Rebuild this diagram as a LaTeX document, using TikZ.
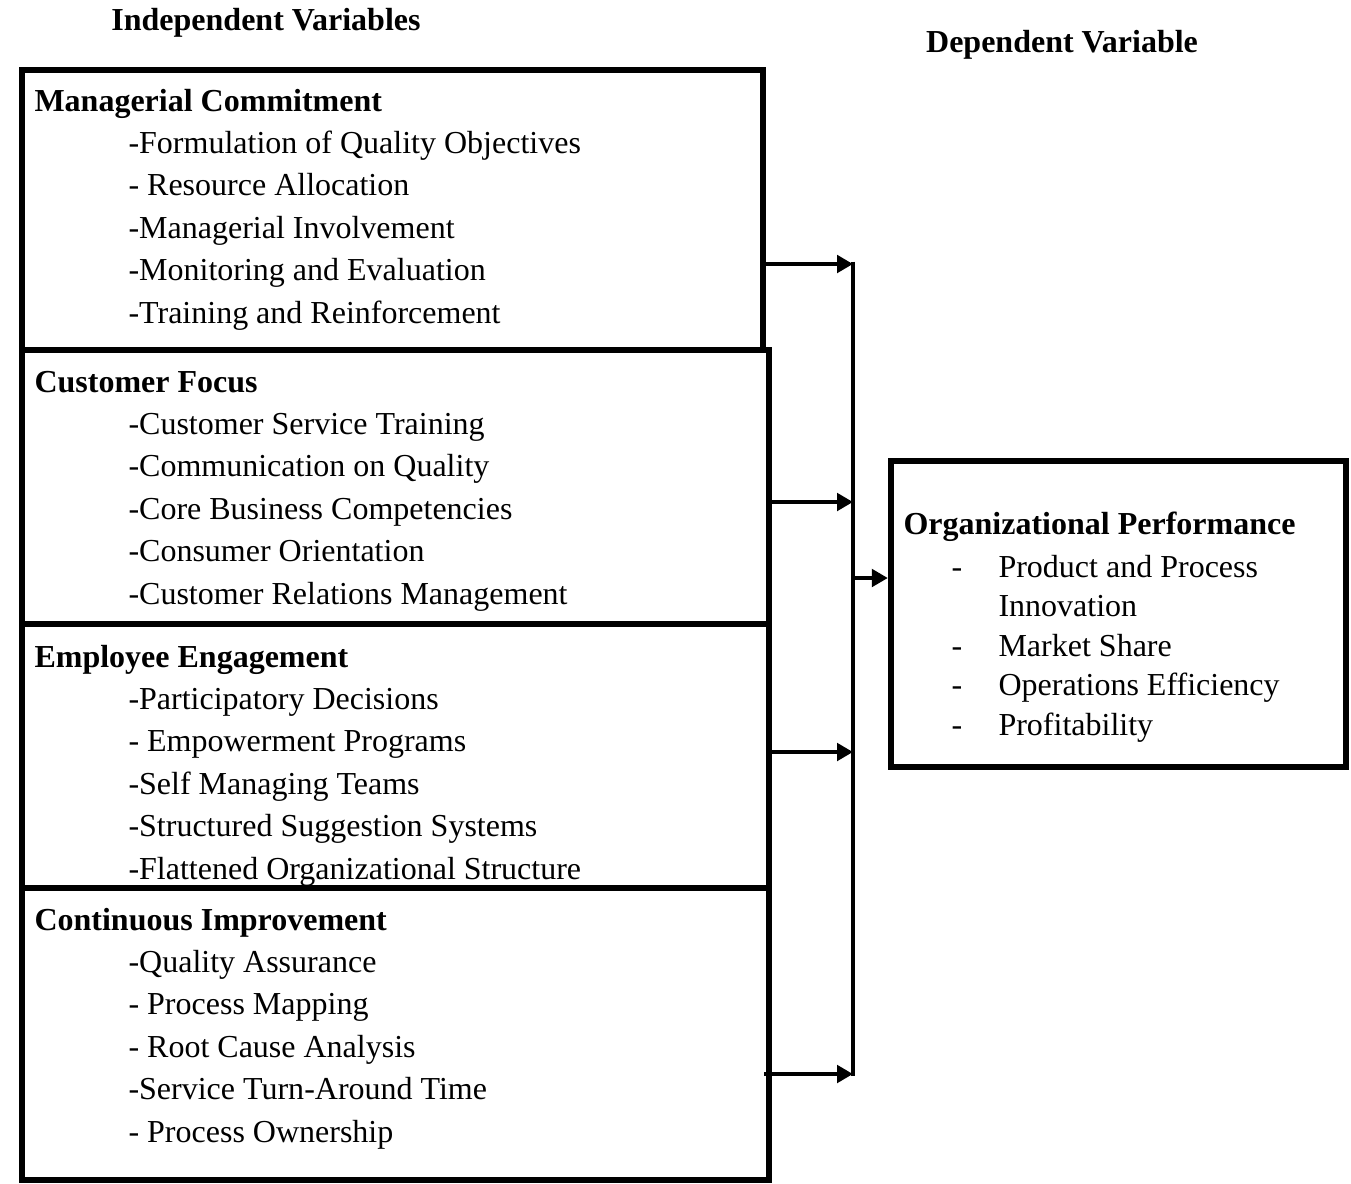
\documentclass[tikz,border=0pt]{standalone}
\usepackage{fontspec}
\setmainfont{Liberation Serif}
\usetikzlibrary{arrows.meta}

\begin{document}
\begin{tikzpicture}[x=0.375pt, y=-0.375pt,
		box/.style={draw, line width=2.4pt, inner sep=0pt},
		head/.style={anchor=base west, inner sep=0pt, yshift=-0.75pt, font=\fontsize{12pt}{14pt}\selectfont\bfseries},
		item/.style={anchor=base west, inner sep=0pt, yshift=-0.75pt, font=\fontsize{12pt}{14pt}\selectfont},
		bus/.style={line width=1.8pt},
		link/.style={line width=1.8pt, -{Triangle[length=6pt, width=6.5pt]}}]
	%%%%% START %%%%%
	\useasboundingbox (0, 0) rectangle (1351, 1183);

	\node[head, anchor=base] (indep) at (266, 28) {Independent Variables};
	\node[head, anchor=base] (dep) at (1062, 50) {Dependent Variable};

	% the four blocks on the left
	\node[box, minimum width=277.9pt, minimum height=105pt] (mc) at (392.5, 210) {};
	\node[box, minimum width=280.1pt, minimum height=102.75pt] (cf) at (395.5, 487) {};
	\node[box, minimum width=280.1pt, minimum height=99pt] (ee) at (395.5, 756) {};
	\node[box, minimum width=280.1pt, minimum height=109.5pt] (ci) at (395.5, 1034) {};

	\node[head] (mchead) at (34, 109) {Managerial Commitment};
	\foreach \txt [count=\i] in {-Formulation of Quality Objectives, - Resource Allocation,
			-Managerial Involvement, -Monitoring and Evaluation, -Training and Reinforcement}
		\node[item] (mc\i) at (128, {109 + 42.4*\i}) {\txt};

	\node[head] (cfhead) at (34, 390) {Customer Focus};
	\foreach \txt [count=\i] in {-Customer Service Training, -Communication on Quality,
			-Core Business Competencies, -Consumer Orientation, -Customer Relations Management}
		\node[item] (cf\i) at (128, {390 + 42.4*\i}) {\txt};

	\node[head] (eehead) at (34, 665) {Employee Engagement};
	\foreach \txt [count=\i] in {-Participatory Decisions, - Empowerment Programs,
			-Self Managing Teams, -Structured Suggestion Systems, -Flattened Organizational Structure}
		\node[item] (ee\i) at (128, {665 + 42.4*\i}) {\txt};

	\node[head] (cihead) at (34, 928) {Continuous Improvement};
	\foreach \txt [count=\i] in {-Quality Assurance, - Process Mapping, - Root Cause Analysis,
			-Service Turn-Around Time, - Process Ownership}
		\node[item] (ci\i) at (128, {928 + 42.4*\i}) {\txt};

	% outcome block
	\node[box, minimum width=170.6pt, minimum height=114.75pt] (op) at (1118.5, 614) {};
	\node[head] (ophead) at (903, 532) {Organizational Performance};
	\node[item] (opd1) at (951, 575) {-};
	\node[item] (op1) at (998, 575) {Product and Process};
	\node[item] (op1b) at (998, 614.5) {Innovation};
	\node[item] (opd2) at (951, 654) {-};
	\node[item] (op2) at (998, 654) {Market Share};
	\node[item] (opd3) at (951, 693.5) {-};
	\node[item] (op3) at (998, 693.5) {Operations Efficiency};
	\node[item] (opd4) at (951, 733) {-};
	\node[item] (op4) at (998, 733) {Profitability};

	% collecting line and arrows
	\coordinate (bus1) at (853, 264);
	\coordinate (bus2) at (853, 502);
	\coordinate (bus3) at (853, 752);
	\coordinate (bus4) at (853, 1074);
	\coordinate (busout) at (853, 578);

	\draw[bus] ([yshift=0.9pt]bus1) -- ([yshift=-0.9pt]bus4);
	\draw[link] (mc.east |- bus1) -- (bus1);
	\draw[link] ([xshift=-2.2pt]cf.east |- bus2) -- (bus2);
	\draw[link] (ee.east |- bus3) -- (bus3);
	\draw[link] ([xshift=-3pt]ci.east |- bus4) -- (bus4);
	\draw[link] (busout) -- (busout -| op.west);

	%%%%% END %%%%%
\end{tikzpicture}
\end{document}
